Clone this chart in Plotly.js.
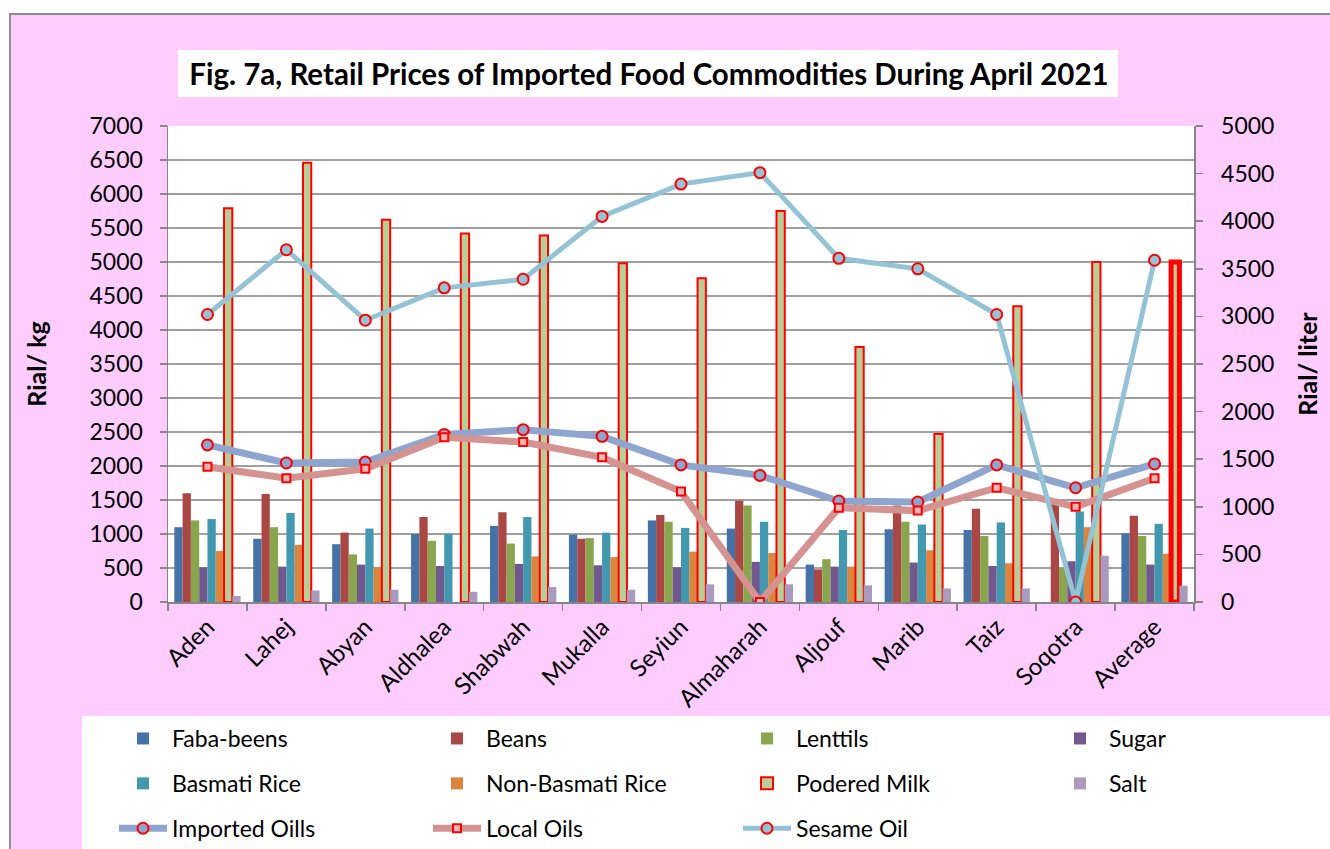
<!DOCTYPE html>
<html>
<head>
<meta charset="utf-8">
<script src="https://cdn.plot.ly/plotly-3.0.1.min.js"></script>
<style>html,body{margin:0;padding:0;background:#fff;}#chart{width:1330px;height:849px;}</style>
</head>
<body>
<div id="chart"></div>
<script>
const cities = ['Aden','Lahej','Abyan','Aldhalea','Shabwah','Mukalla','Seyiun','Almaharah','Aljouf','Marib','Taiz','Soqotra','Average'];
const fabaBeens   = [1100, 930, 850,1000,1120, 990,1200,1080, 550,1070,1060,null,1010];
const beans       = [1600,1590,1020,1250,1320, 930,1280,1490, 480,1420,1370,1480,1270];
const lentils     = [1200,1100, 700, 900, 860, 940,1180,1420, 630,1180, 970, 510, 970];
const sugar       = [ 510, 520, 550, 530, 560, 540, 510, 590, 520, 580, 530, 600, 550];
const basmatiRice = [1220,1310,1080,1000,1250,1020,1090,1180,1060,1140,1170,1330,1150];
const nonBasmati  = [ 750, 840, 510,null, 670, 660, 740, 720, 520, 760, 570,1100, 710];
const poderedMilk = [5790,6460,5620,5420,5390,4980,4760,5750,3750,2470,4350,5000,5000];
const salt        = [  90, 170, 180, 150, 220, 180, 260, 260, 245, 200, 200, 680, 240];
const importedOils= [1650,1460,1470,1760,1810,1740,1440,1330,1060,1050,1440,1200,1450];
const localOils   = [1420,1300,1400,1730,1680,1520,1160,   0, 990, 960,1200,1000,1300];
const sesameOil   = [3020,3700,2960,3300,3390,4050,4390,4510,3610,3500,3020,   0,3590];

const W = 1330, H = 849;
const L = 168, R = 1194, T = 126, B = 602;
const px2x = p => (p - L) / (R - L);
const px2y = p => (B - p) / (B - T);
const FONT = 'Lato, "Open Sans", sans-serif';

function bar(name, y, color, legend, extra) {
  return Object.assign({
    type: 'bar', name: name, x: cities, y: y,
    marker: {color: color, line: {width: 0}},
    legend: legend, legendgroup: name, hoverinfo: 'y+name'
  }, extra || {});
}
function line(name, y, color, width, sym, size, fill, legend) {
  return {
    type: 'scatter', mode: 'lines+markers', name: name, x: cities, y: y, yaxis: 'y2',
    line: {color: color, width: width},
    marker: {symbol: sym, size: size, color: fill, line: {color: '#FF0000', width: 2}},
    legend: legend, legendgroup: name
  };
}

const milkLineW = poderedMilk.map((v, i) => i === cities.length - 1 ? 5 : 2);

const data = [
  bar('Faba-beens', fabaBeens, '#4572A7', 'legend'),
  bar('Beans', beans, '#AA4643', 'legend2'),
  bar('Lenttils', lentils, '#89A54E', 'legend3'),
  bar('Sugar', sugar, '#71588F', 'legend4'),
  bar('Basmati Rice', basmatiRice, '#4198AF', 'legend'),
  bar('Non-Basmati Rice', nonBasmati, '#DB843D', 'legend2'),
  bar('Podered Milk', poderedMilk, '#B9CD96', 'legend3', {marker: {color: '#B9CD96', line: {color: '#FF0000', width: milkLineW}}}),
  bar('Salt', salt, '#A99BBD', 'legend4'),
  line('Imported Oills', importedOils, '#8EA5D0', 7, 'circle', 11, '#8EA5D0', 'legend'),
  line('Local Oils', localOils, '#D49391', 7, 'square', 8, '#E6B9B8', 'legend2'),
  line('Sesame Oil', sesameOil, '#93C3D5', 5, 'circle', 11, '#93C3D5', 'legend3')
];

const legBase = {
  orientation: 'v', yanchor: 'top', xanchor: 'left',
  y: px2y(717), bgcolor: 'rgba(0,0,0,0)',
  font: {family: FONT, size: 23, color: '#000'},
  itemwidth: 48, tracegroupgap: 12, traceorder: 'grouped'
};
const legX = [114, 428, 738, 1051];

const layout = {
  width: W, height: H,
  margin: {l: L, r: W - R, t: T, b: H - B, autoexpand: false},
  paper_bgcolor: '#FFFFFF', plot_bgcolor: 'rgba(0,0,0,0)',
  font: {family: FONT, size: 23, color: '#000'},
  title: {
    text: '<b>Fig. 7a, Retail Prices of Imported Food Commodities During April 2021</b>',
    font: {family: FONT, size: 29.5, color: '#000'},
    xref: 'container', yref: 'container', x: 649 / W, y: 1 - 75 / H,
    xanchor: 'center', yanchor: 'middle'
  },
  barmode: 'group', bargap: 0.16, bargroupgap: 0,
  showlegend: true,
  legend: Object.assign({}, legBase, {x: px2x(legX[0])}),
  legend2: Object.assign({}, legBase, {x: px2x(legX[1])}),
  legend3: Object.assign({}, legBase, {x: px2x(legX[2])}),
  legend4: Object.assign({}, legBase, {x: px2x(legX[3])}),
  xaxis: {
    type: 'category', range: [-0.5, cities.length - 0.5], autorange: false,
    tickson: 'boundaries', ticks: 'outside', ticklen: 7,
    tickcolor: '#868686', tickwidth: 1.5, showline: true, linecolor: '#868686', linewidth: 1.5,
    showgrid: false, tickangle: -45, tickfont: {family: FONT, size: 24, color: '#000'},
    fixedrange: true
  },
  yaxis: {
    range: [0, 7000], autorange: false, dtick: 500, tick0: 0, showgrid: true, gridcolor: '#A0A0A0', gridwidth: 1.5,
    zeroline: false, showline: true, linecolor: '#868686', linewidth: 1.5,
    ticks: 'outside', ticklen: 7, tickcolor: '#868686', tickwidth: 1.5, ticklabelstandoff: 12,
    tickfont: {family: FONT, size: 23, color: '#000'},
    title: {text: '<b>Rial/ kg</b>', font: {family: FONT, size: 25, color: '#000'}, standoff: 36},
    fixedrange: true
  },
  yaxis2: {
    overlaying: 'y', side: 'right', range: [0, 5000], autorange: false, dtick: 500, tick0: 0,
    showgrid: false, zeroline: false, showline: true, linecolor: '#868686', linewidth: 1.5,
    ticks: 'outside', ticklen: 7, tickcolor: '#868686', tickwidth: 1.5, ticklabelstandoff: 14,
    tickfont: {family: FONT, size: 23, color: '#000'},
    title: {text: '<b>Rial/ liter</b>', font: {family: FONT, size: 25, color: '#000'}, standoff: 26},
    fixedrange: true
  },
  shapes: [
    {type: 'rect', xref: 'paper', yref: 'paper', layer: 'below',
     x0: px2x(10), x1: px2x(1345), y0: px2y(14), y1: px2y(870),
     fillcolor: '#FFCCFF', line: {color: '#8C8C8C', width: 2}},
    {type: 'rect', xref: 'paper', yref: 'paper', layer: 'below',
     x0: 0, x1: 1, y0: 0, y1: 1, fillcolor: '#FFFFFF', line: {width: 0}},
    {type: 'rect', xref: 'paper', yref: 'paper', layer: 'below',
     x0: px2x(178), x1: px2x(1118), y0: px2y(97), y1: px2y(50), fillcolor: '#FFFFFF', line: {width: 0}},
    {type: 'rect', xref: 'paper', yref: 'paper', layer: 'below',
     x0: px2x(82), x1: px2x(1345), y0: px2y(870), y1: px2y(716), fillcolor: '#FFFFFF', line: {width: 0}}
  ]
};

Plotly.newPlot('chart', data, layout, {displayModeBar: false, staticPlot: true});
</script>
</body>
</html>
